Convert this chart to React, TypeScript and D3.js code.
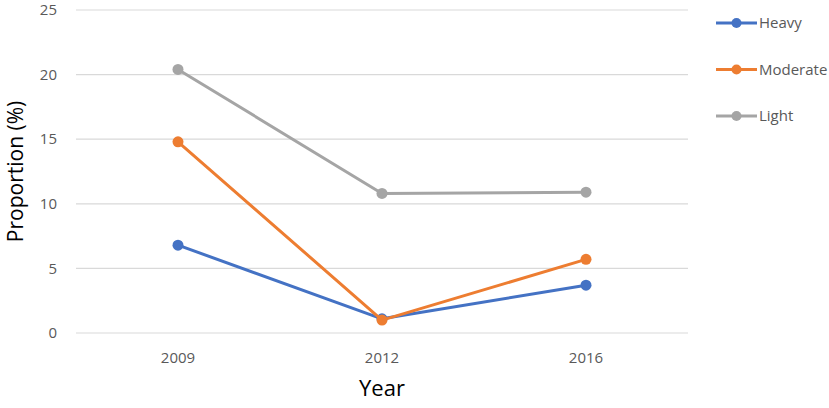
import { useEffect, useRef } from 'react';
import * as d3 from 'd3';

const years = ['2009', '2012', '2016'];
const heavy = [6.8, 1.1, 3.7];
const moderate = [14.8, 1.0, 5.7];
const light = [20.4, 10.8, 10.9];
const yTicks = [0, 5, 10, 15, 20, 25];

const series = [
  { name: 'Heavy', values: heavy, color: '#4472C4' },
  { name: 'Moderate', values: moderate, color: '#ED7D31' },
  { name: 'Light', values: light, color: '#A5A5A5' },
];

export default function App() {
  const svgRef = useRef<SVGSVGElement>(null);

  useEffect(() => {
    if (!svgRef.current) return;
    document.body.style.margin = '0';

    const width = 829;
    const height = 408;
    const font = '"Open Sans", Calibri, sans-serif';

    const svg = d3.select(svgRef.current);
    svg.selectAll('*').remove();
    svg.attr('width', width).attr('height', height);

    const x = d3.scaleBand().domain(years).range([76, 688]);
    const y = d3.scaleLinear().domain([0, 25]).range([333, 10]);

    // gridlines
    svg.append('g')
      .selectAll('line')
      .data(yTicks)
      .enter()
      .append('line')
      .attr('x1', 76)
      .attr('x2', 688)
      .attr('y1', d => y(d))
      .attr('y2', d => y(d))
      .attr('stroke', '#D9D9D9')
      .attr('stroke-width', 1.2);

    // y tick labels
    svg.append('g')
      .selectAll('text')
      .data(yTicks)
      .enter()
      .append('text')
      .attr('x', 57)
      .attr('y', d => y(d))
      .attr('dy', '0.35em')
      .attr('text-anchor', 'end')
      .attr('fill', '#595959')
      .style('font-family', font)
      .style('font-size', '15px')
      .text(d => d);

    // x tick labels
    svg.append('g')
      .selectAll('text')
      .data(years)
      .enter()
      .append('text')
      .attr('x', d => (x(d) as number) + x.bandwidth() / 2)
      .attr('y', 358)
      .attr('dy', '0.35em')
      .attr('text-anchor', 'middle')
      .attr('fill', '#595959')
      .style('font-family', font)
      .style('font-size', '15px')
      .text(d => d);

    // axis titles
    svg.append('text')
      .attr('transform', `translate(23,${y(12.5)}) rotate(-90)`)
      .attr('text-anchor', 'middle')
      .attr('fill', '#000')
      .style('font-family', font)
      .style('font-size', '21px')
      .text('Proportion (%)');

    svg.append('text')
      .attr('x', 382)
      .attr('y', 396)
      .attr('text-anchor', 'middle')
      .attr('fill', '#000')
      .style('font-family', font)
      .style('font-size', '22px')
      .text('Year');

    const line = d3.line<number>()
      .x((_, i) => (x(years[i]) as number) + x.bandwidth() / 2)
      .y(d => y(d));

    const g = svg.append('g');
    series.forEach(s => {
      g.append('path')
        .attr('d', line(s.values) as string)
        .attr('fill', 'none')
        .attr('stroke', s.color)
        .attr('stroke-width', 3)
        .attr('stroke-linejoin', 'round');
      g.selectAll(null)
        .data(s.values)
        .enter()
        .append('circle')
        .attr('cx', (_, i) => (x(years[i]) as number) + x.bandwidth() / 2)
        .attr('cy', d => y(d))
        .attr('r', 5.5)
        .attr('fill', s.color);
    });

    // legend
    const legend = svg.append('g');
    series.forEach((s, i) => {
      const ly = 23 + i * 46.5;
      legend.append('line')
        .attr('x1', 716)
        .attr('x2', 757)
        .attr('y1', ly)
        .attr('y2', ly)
        .attr('stroke', s.color)
        .attr('stroke-width', 3);
      legend.append('circle')
        .attr('cx', 736.5)
        .attr('cy', ly)
        .attr('r', 5)
        .attr('fill', s.color);
      legend.append('text')
        .attr('x', 759)
        .attr('y', ly)
        .attr('dy', '0.35em')
        .attr('fill', '#595959')
        .style('font-family', font)
        .style('font-size', '15px')
        .text(s.name);
    });
  }, []);

  return <svg ref={svgRef} style={{ display: 'block' }} />;
}
